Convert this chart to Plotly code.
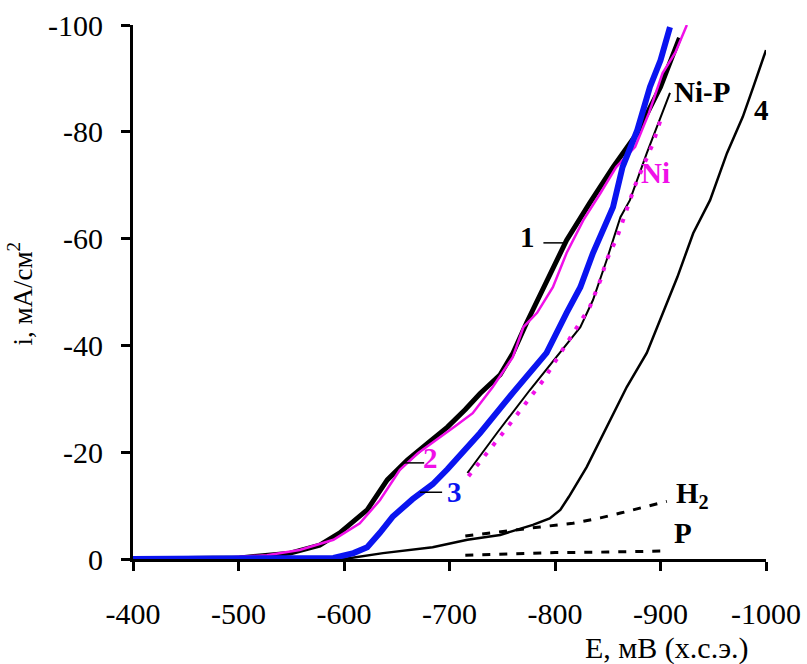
import plotly.graph_objects as go

# Cathodic polarization curves, E in mV (SCE), i in mA/cm^2
E1 = [-400, -450, -501, -549, -577, -596, -622, -641, -660, -680, -698, -715, -729, -748, -760, -773, -792, -811, -833, -855, -878, -900, -918]
I1 = [0, 0, -0.2, -1.1, -2.6, -4.9, -9.2, -14.8, -18.5, -21.8, -24.7, -28.0, -31.0, -34.5, -38.5, -44.2, -51.7, -59.7, -66.7, -73.4, -79.8, -88.4, -97.6]

E2 = [-447, -490, -527, -558, -590, -615, -634, -653, -670, -688, -705, -722, -741, -760, -770, -783, -798, -811, -827, -843, -858, -876, -889, -902, -914, -925]
I2 = [0, -0.3, -0.7, -1.7, -3.6, -6.7, -11.0, -16.7, -19.8, -22.3, -24.8, -27.3, -32.2, -37.8, -43.4, -46.1, -50.9, -57.3, -63.5, -68.5, -73.4, -77.2, -83.5, -91.0, -94.8, -100]

E3 = [-400, -590, -609, -622, -634, -646, -665, -684, -698, -729, -760, -792, -811, -824, -836, -849, -855, -864, -878, -890, -900, -909]
I3 = [0, -0.2, -1.1, -2.2, -4.9, -7.9, -11.2, -14.0, -16.8, -23.6, -31.1, -38.6, -46.1, -50.9, -57.3, -63.5, -65.9, -73.4, -80.3, -88.4, -93.4, -99.6]

E4 = [-400, -600, -637, -684, -717, -748, -779, -795, -805, -813, -830, -849, -868, -887, -902, -916, -931, -947, -963, -978, -988, -1000]
I4 = [0, 0, -1.1, -2.2, -3.6, -4.5, -6.4, -7.6, -9.2, -11.6, -17.2, -24.7, -32.2, -38.6, -46.1, -52.8, -61.0, -67.2, -76.0, -82.8, -88.4, -95.3]

E_NIP = [-717, -745, -776, -805, -824, -836, -849, -862, -871, -887, -900, -909]
I_NIP = [-16.1, -23.6, -31.6, -38.6, -43.4, -48.5, -56.0, -64.0, -67.2, -76.0, -82.8, -87.3]

E_NI = [-718, -755, -789, -805, -821, -833, -843, -849, -859, -868, -876, -893, -901]
I_NI = [-15.5, -24.7, -33.5, -38.6, -43.4, -47.2, -52.2, -56.0, -60.3, -65.4, -70.0, -77.9, -82.8]

E_H2 = [-715, -740, -760, -786, -817, -843, -862, -883, -906]
I_H2 = [-4.3, -4.9, -5.5, -6.0, -6.7, -7.7, -8.6, -9.7, -10.8]

E_P = [-715, -750, -800, -850, -906]
I_P = [-0.7, -0.9, -1.2, -1.3, -1.5]

X_TICKS = [-400, -500, -600, -700, -800, -900, -1000]
X_LABELS = ["-400", "-500", "-600", "-700", "-800", "-900", "-1000"]
Y_TICKS = [0, -20, -40, -60, -80, -100]
Y_LABELS = ["0", "-20", "-40", "-60", "-80", "-100"]

BLACK = "#000000"
MAGENTA = "#f010e8"
BLUE = "#0a14f0"
FONT = "Liberation Serif, Times New Roman, serif"

fig = go.Figure()

def add_line(x, y, color, width, dash="solid"):
    fig.add_trace(go.Scatter(x=x, y=y, mode="lines",
                             line=dict(color=color, width=width, dash=dash),
                             showlegend=False, hoverinfo="skip"))

add_line(E_P, I_P, BLACK, 3, "8px,9px")
add_line(E_H2, I_H2, BLACK, 3, "8px,9px")
add_line(E4, I4, BLACK, 2.5)
add_line(E_NIP, I_NIP, BLACK, 2)
add_line(E_NI, I_NI, MAGENTA, 4, "4px,9px")
add_line(E1, I1, BLACK, 5)
add_line(E2, I2, MAGENTA, 2.5)
add_line(E3, I3, BLUE, 6)

# curve labels
labels = [
    ("<b>1</b>", -773.5, -60.3, BLACK),
    ("<b>2</b>", -682.0, -18.9, MAGENTA),
    ("<b>3</b>", -704.5, -12.5, BLUE),
    ("<b>Ni-P</b>", -939.0, -87.5, BLACK),
    ("<b>4</b>", -996.2, -84.1, BLACK),
    ("<b>Ni</b>", -895.5, -72.3, MAGENTA),
    ("<b>H<sub>2</sub></b>", -930.0, -12.0, BLACK),
    ("<b>P</b>", -921.4, -4.9, BLACK),
]
for txt, x, y, c in labels:
    fig.add_annotation(x=x, y=y, xref="x", yref="y", text=txt, showarrow=False,
                       xanchor="center", yanchor="middle",
                       font=dict(family=FONT, size=29, color=c))

# leader lines from curves to their numbers
leaders = [(-789, -808, -59.2), (-656, -676, -18.0), (-672, -693, -12.5)]
for x0, x1, y in leaders:
    fig.add_shape(type="line", xref="x", yref="y", x0=x0, x1=x1, y0=y, y1=y,
                  line=dict(color=BLACK, width=1.5))

# axis titles
fig.add_annotation(xref="paper", yref="paper", x=-0.1785, y=0.497,
                   xanchor="center", yanchor="middle",
                   text="i, мА/см<sup>2</sup>", textangle=-90, showarrow=False,
                   font=dict(family=FONT, size=27, color=BLACK))
fig.add_annotation(xref="paper", yref="paper", x=0.8436, y=-0.1667,
                   xanchor="center", yanchor="middle",
                   text="E, мВ (х.с.э.)", showarrow=False,
                   font=dict(family=FONT, size=30, color=BLACK))

axis_common = dict(showgrid=False, zeroline=False, showline=True, linecolor=BLACK,
                   linewidth=3, ticks="outside", ticklen=9, tickwidth=3,
                   tickcolor=BLACK, automargin=False,
                   tickfont=dict(family=FONT, size=30, color=BLACK))

fig.update_xaxes(range=[-400, -1000], tickvals=X_TICKS, ticktext=X_LABELS,
                 ticklabelstandoff=17, **axis_common)
fig.update_yaxes(range=[0, -100], tickvals=Y_TICKS, ticktext=Y_LABELS,
                 ticklabelstandoff=12, **axis_common)

fig.update_layout(width=807, height=664, margin=dict(l=133, r=41, t=25, b=105),
                  plot_bgcolor="white", paper_bgcolor="white")

fig.write_html("out.html")
